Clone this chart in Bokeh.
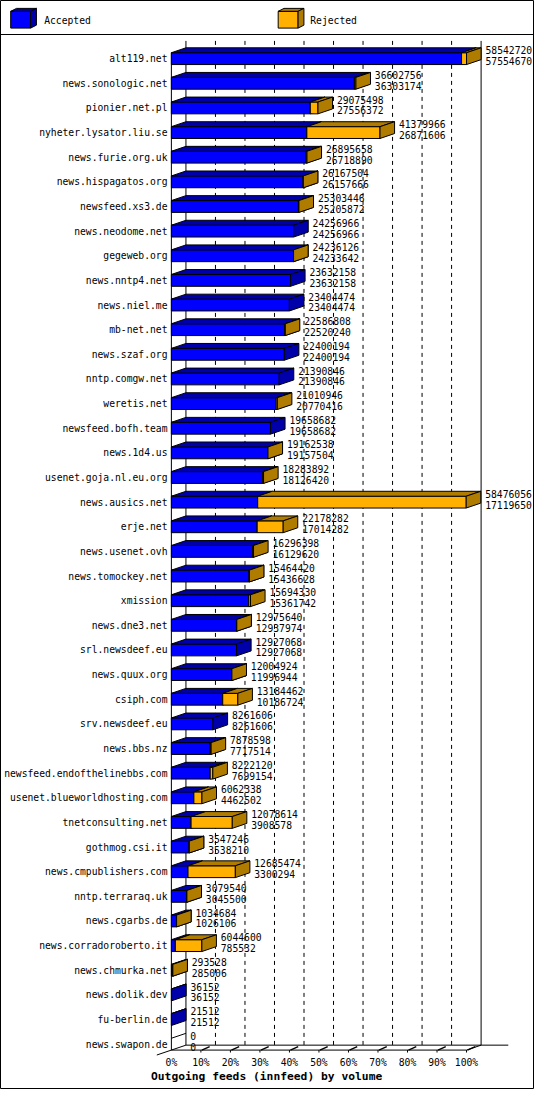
from bokeh.plotting import figure
from bokeh.models import Range1d, ColumnDataSource
from bokeh.embed import file_html
from bokeh.resources import INLINE
from bokeh.core.properties import value

# ---------------- data ----------------
hosts = [
    "alt119.net", "news.sonologic.net", "pionier.net.pl", "nyheter.lysator.liu.se",
    "news.furie.org.uk", "news.hispagatos.org", "newsfeed.xs3.de", "news.neodome.net",
    "gegeweb.org", "news.nntp4.net", "news.niel.me", "mb-net.net", "news.szaf.org",
    "nntp.comgw.net", "weretis.net", "newsfeed.bofh.team", "news.1d4.us",
    "usenet.goja.nl.eu.org", "news.ausics.net", "erje.net", "news.usenet.ovh",
    "news.tomockey.net", "xmission", "news.dne3.net", "srl.newsdeef.eu",
    "news.quux.org", "csiph.com", "srv.newsdeef.eu", "news.bbs.nz",
    "newsfeed.endofthelinebbs.com", "usenet.blueworldhosting.com", "tnetconsulting.net",
    "gothmog.csi.it", "news.cmpublishers.com", "nntp.terraraq.uk", "news.cgarbs.de",
    "news.corradoroberto.it", "news.chmurka.net", "news.dolik.dev", "fu-berlin.de",
    "news.swapon.de",
]
offered = [
    58542720, 36602756, 29075498, 41379966, 26895658, 26167504, 25303446, 24256966,
    24236126, 23632158, 23404474, 22586808, 22400194, 21390846, 21010946, 19658682,
    19162538, 18283892, 58476056, 22178282, 16296398, 15464420, 15694330, 12975640,
    12927068, 12004924, 13184462, 8261606, 7878598, 8222120, 6062338, 12078614,
    3547246, 12685474, 3079540, 1034684, 6044600, 293528, 36152, 21512, 0,
]
accepted = [
    57554670, 36303174, 27556372, 26871606, 26718890, 26157666, 25205872, 24256966,
    24233642, 23632158, 23404474, 22520240, 22400194, 21390846, 20770416, 19658682,
    19157504, 18126420, 17119650, 17014282, 16129620, 15436628, 15361742, 12937974,
    12927068, 11996944, 10186724, 8261606, 7717514, 7699154, 4462502, 3908578,
    3538210, 3300294, 3045500, 1026106, 785532, 285006, 36152, 21512, 0,
]
pct_ticks = [0, 10, 20, 30, 40, 50, 60, 70, 80, 90, 100]
pct_labels = ["0%", "10%", "20%", "30%", "40%", "50%", "60%", "70%", "80%", "90%", "100%"]
legend_labels = ["Accepted", "Rejected"]
chart_title = "Outgoing feeds (innfeed) by volume"

# ---------------- geometry / style ----------------
W, H = 534, 1089          # canvas size
RW, RH = 550, 1105        # design size
SX = W / RW
VMAX = max(offered)
X0, XL = 176, 304         # design px of 0% and length of 100%
ROW0, ROWH = 59, 25       # design px of first row centre, row pitch
PX = VMAX / XL            # data units per design px (x)
RY = 1.0 / ROWH           # rows per design px (y)


def xd(px):
    return (px - X0) * PX


def yd(py):
    return (py - ROW0) * RY


DX = 15 * PX              # depth offset right
DY = -5 * RY              # depth offset up
HF = 6 * RY               # half front height

BLUE, BLUE_D = "#0000FF", "#0000AA"
ORG, ORG_D = "#FFB000", "#B07C00"
FONT = "DejaVu Sans Mono"
FS = "%.1fpx" % (10 * SX)

p = figure(width=W, height=H, x_range=Range1d(xd(0), xd(RW)),
           y_range=Range1d(yd(RH), yd(0)), output_backend="svg",
           toolbar_location=None, min_border=0, x_axis_type=None, y_axis_type=None)
p.xgrid.visible = False
p.ygrid.visible = False
p.outline_line_color = "black"
p.outline_line_width = 1
p.background_fill_color = "white"
p.border_fill_color = "white"

n = len(hosts)
rows = list(range(n))
ff = (n - 1) + HF          # front floor y
fb = ff + DY               # back floor y
wall_top = -HF + DY - 7 * RY

# legend separator
p.segment(x0=[xd(0)], y0=[yd(34.5)], x1=[xd(RW)], y1=[yd(34.5)], line_color="black", line_width=1)

# back wall
grid_x = [VMAX * k / 100 + DX for k in pct_ticks[1:-1]]
p.segment(x0=grid_x, y0=[wall_top] * len(grid_x), x1=grid_x, y1=[fb] * len(grid_x),
          line_color="black", line_width=1, line_dash="4 4")
p.segment(x0=[DX, VMAX + DX], y0=[wall_top, wall_top], x1=[DX, VMAX + DX], y1=[fb, fb],
          line_color="black", line_width=1)
# floor
p.segment(x0=[0, DX, -DX, VMAX], y0=[ff, fb, ff - DY, ff],
          x1=[VMAX, VMAX + DX + 28 * PX, DX, VMAX + DX], y1=[ff, fb, fb, fb],
          line_color="black", line_width=1)
# front left axis line
p.segment(x0=[0], y0=[-HF], x1=[0], y1=[ff], line_color="black", line_width=1)
# floor ticks
tx = [VMAX * k / 100 for k in pct_ticks[1:]]
p.segment(x0=tx, y0=[ff] * len(tx), x1=tx, y1=[ff + 2.5 * RY] * len(tx), line_color="black", line_width=1)
p.segment(x0=[x + 1 * PX for x in tx], y0=[ff] * len(tx),
          x1=[x + 9 * PX for x in tx], y1=[ff - 3.5 * RY] * len(tx), line_color="black", line_width=1.5)


def boxes(lo, hi, idx):
    fl, fr, ft, fbm = [], [], [], []
    txs, tys, rxs, rys = [], [], [], []
    for a, b, i in zip(lo, hi, idx):
        fl.append(a); fr.append(b); ft.append(i - HF); fbm.append(i + HF)
        txs.append([a, a + DX, b + DX, b]); tys.append([i - HF, i - HF + DY, i - HF + DY, i - HF])
        rxs.append([b, b + DX, b + DX, b]); rys.append([i - HF, i - HF + DY, i + HF + DY, i + HF])
    return fl, fr, ft, fbm, txs, tys, rxs, rys


def draw(lo, hi, idx, c, cd):
    fl, fr, ft, fbm, txs, tys, rxs, rys = boxes(lo, hi, idx)
    p.quad(left=fl, right=fr, top=ft, bottom=fbm, fill_color=c, line_color="black", line_width=1)
    p.patches(xs=txs, ys=tys, fill_color=cd, line_color="black", line_width=1)
    p.patches(xs=rxs, ys=rys, fill_color=cd, line_color="black", line_width=1)


# accepted (blue)
bi = [i for i in rows if accepted[i] > 0]
draw([0] * len(bi), [accepted[i] for i in bi], bi, BLUE, BLUE_D)
zi = [i for i in rows if accepted[i] == 0]
p.segment(x0=[0] * len(zi), y0=[i - HF for i in zi], x1=[DX] * len(zi), y1=[i - HF + DY for i in zi],
          line_color="black", line_width=1)
# rejected (orange)
oi = [i for i in rows if offered[i] > accepted[i]]
draw([accepted[i] for i in oi], [offered[i] for i in oi], oi, ORG, ORG_D)

# host labels
p.text(x=[xd(172)] * n, y=rows, text=hosts, text_align="right", text_baseline="middle",
       text_font=value(FONT), text_font_size=FS, text_color="black")
# value labels
vx = [offered[i] + DX + 4.5 * PX for i in rows]
p.text(x=vx, y=[i - 8.5 * RY for i in rows], text=[str(v) for v in offered], text_align="left",
       text_baseline="middle", text_font=value(FONT), text_font_size=FS, text_color="black")
p.text(x=vx, y=[i + 2.5 * RY for i in rows], text=[str(v) for v in accepted], text_align="left",
       text_baseline="middle", text_font=value(FONT), text_font_size=FS, text_color="black")
# percent labels
p.text(x=[VMAX * k / 100 for k in pct_ticks], y=[yd(1078)] * len(pct_ticks), text=pct_labels,
       text_align="center", text_baseline="middle", text_font=value(FONT), text_font_size=FS,
       text_color="black")
# title
p.text(x=[xd(155)], y=[yd(1091.5)], text=[chart_title], text_align="left", text_baseline="middle",
       text_font=value(FONT), text_font_size="%.1fpx" % (11.6 * SX), text_font_style="bold",
       text_color="black")

# legend (3D boxes)
lg_x = [xd(10.5), xd(286)]
lg_w = 20.5 * PX
lg_top, lg_bot = yd(11), yd(28)
ldx, ldy = 6 * PX, -3 * RY
p.quad(left=lg_x, right=[x + lg_w for x in lg_x], top=[lg_top] * 2, bottom=[lg_bot] * 2,
       fill_color=[BLUE, ORG], line_color="black", line_width=1)
p.patches(xs=[[x, x + ldx, x + lg_w + ldx, x + lg_w] for x in lg_x],
          ys=[[lg_top, lg_top + ldy, lg_top + ldy, lg_top]] * 2,
          fill_color=[BLUE_D, ORG_D], line_color="black", line_width=1)
p.patches(xs=[[x + lg_w, x + lg_w + ldx, x + lg_w + ldx, x + lg_w] for x in lg_x],
          ys=[[lg_top, lg_top + ldy, lg_bot + ldy, lg_bot]] * 2,
          fill_color=[BLUE_D, ORG_D], line_color="black", line_width=1)
p.text(x=[xd(45), xd(319)], y=[yd(20)] * 2, text=legend_labels, text_align="left",
       text_baseline="middle", text_font=value(FONT), text_font_size=FS, text_color="black")

open("out.html", "w").write(file_html(p, INLINE))
